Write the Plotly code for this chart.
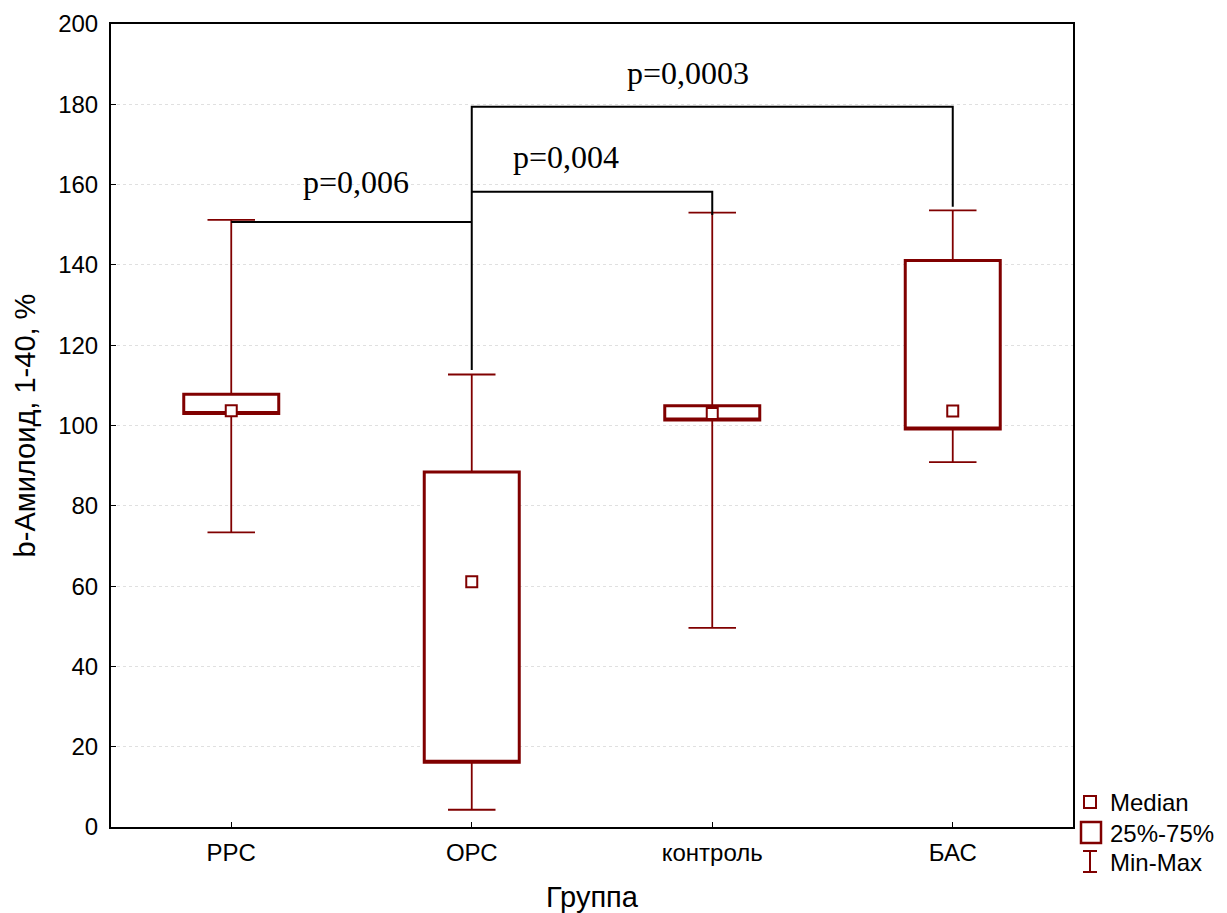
import plotly.graph_objects as go

groups = ["PPC", "ОРС", "контроль", "БАС"]
medians = [103.7, 61.1, 103.0, 103.6]
q1 = [103.0, 16.1, 101.4, 99.1]
q3 = [107.8, 88.4, 104.9, 141.1]
mins = [73.4, 4.3, 49.6, 90.9]
maxs = [151.2, 112.7, 153.0, 153.6]

# significance brackets: path points as (group index, value)
bracket_paths = [
    [(0, 150.7), (1, 150.7)],
    [(1, 158.2), (2, 158.2), (2, 152.4)],
    [(1, 113.8), (1, 179.4), (3, 179.4), (3, 154.5)],
]
p_texts = ["p=0,006", "p=0,004", "p=0,0003"]
p_text_pos = [(0.52, 160.6), (1.39, 166.9), (1.90, 187.8)]

RED = "#800000"
idx = list(range(len(groups)))

fig = go.Figure()

# whiskers (thin)
fig.add_trace(go.Box(
    x=idx, q1=medians, median=medians, q3=medians,
    lowerfence=mins, upperfence=maxs,
    width=0.395, whiskerwidth=0.5,
    line=dict(color=RED, width=1.8), fillcolor="white",
    boxpoints=False, showlegend=False, hoverinfo="skip",
))
# boxes (thicker, white fill covers whisker inside)
fig.add_trace(go.Box(
    x=idx, q1=q1, median=q1, q3=q3,
    lowerfence=q1, upperfence=q3,
    width=0.395, whiskerwidth=0,
    line=dict(color=RED, width=3), fillcolor="white",
    boxpoints=False, showlegend=False, hoverinfo="skip",
))
# medians
fig.add_trace(go.Scatter(
    x=idx, y=medians, mode="markers",
    marker=dict(symbol="square", size=11, color="white",
                line=dict(color=RED, width=2)),
    showlegend=False, hoverinfo="skip",
))
# brackets
for path in bracket_paths:
    fig.add_trace(go.Scatter(
        x=[p[0] for p in path], y=[p[1] for p in path], mode="lines",
        line=dict(color="black", width=2), showlegend=False, hoverinfo="skip",
    ))
for t, (tx, ty) in zip(p_texts, p_text_pos):
    fig.add_annotation(x=tx, y=ty, text=t, showarrow=False,
                       font=dict(family="Liberation Serif", size=32, color="black"))

# page-pixel frame of plot area; the page body has an 8px margin
OFF = 8
L, R, T, B = 111, 1073, 24, 827
W, H = 1227 - OFF, 913 - OFF


def pxx(x):
    return (x - L) / (R - L)


def pxy(y):
    return (B - y) / (B - T)


# manual legend
shapes = [
    dict(type="rect", xref="paper", yref="paper", x0=pxx(1084), x1=pxx(1096),
         y0=pxy(808), y1=pxy(796), line=dict(color=RED, width=2), fillcolor="white"),
    dict(type="rect", xref="paper", yref="paper", x0=pxx(1081), x1=pxx(1101),
         y0=pxy(843), y1=pxy(822), line=dict(color=RED, width=2.5), fillcolor="white"),
    dict(type="line", xref="paper", yref="paper", x0=pxx(1090), x1=pxx(1090),
         y0=pxy(872), y1=pxy(851), line=dict(color=RED, width=2)),
    dict(type="line", xref="paper", yref="paper", x0=pxx(1083), x1=pxx(1097),
         y0=pxy(851), y1=pxy(851), line=dict(color=RED, width=2)),
    dict(type="line", xref="paper", yref="paper", x0=pxx(1083), x1=pxx(1097),
         y0=pxy(872), y1=pxy(872), line=dict(color=RED, width=2)),
]
legend_labels = ["Median", "25%-75%", "Min-Max"]
legend_y = [802, 833, 862]
for lab, ly in zip(legend_labels, legend_y):
    fig.add_annotation(xref="paper", yref="paper", x=pxx(1108), y=pxy(ly),
                       text=lab, showarrow=False, xanchor="left", yanchor="middle",
                       font=dict(family="Liberation Sans", size=24, color="black"))

fig.update_layout(
    width=W, height=H,
    margin=dict(l=L - OFF, r=W - (R - OFF), t=T - OFF, b=H - (B - OFF)),
    paper_bgcolor="white", plot_bgcolor="white",
    shapes=shapes,
    font=dict(family="Liberation Sans", size=24, color="black"),
    boxmode="overlay",
)
fig.update_xaxes(
    automargin=False,
    range=[-0.5, 3.5], tickmode="array", tickvals=idx, ticktext=groups,
    ticks="inside", ticklen=5, tickcolor="black", tickwidth=1,
    ticklabelstandoff=3,
    showline=True, linecolor="black", linewidth=2, mirror=True,
    showgrid=False, zeroline=False,
    title=dict(text="Группа", standoff=24),
)
fig.update_yaxes(
    automargin=False,
    range=[0, 200], tickmode="linear", tick0=0, dtick=20,
    ticks="inside", ticklen=5, tickcolor="black", tickwidth=1,
    ticklabelstandoff=6,
    showline=True, linecolor="black", linewidth=2, mirror=True,
    showgrid=True, gridcolor="#e0e0e0", griddash="dot", gridwidth=1,
    zeroline=False,
    title=dict(text="b-Амилоид, 1-40, %", standoff=14),
)

fig.write_html("out.html", config={"displayModeBar": False})
